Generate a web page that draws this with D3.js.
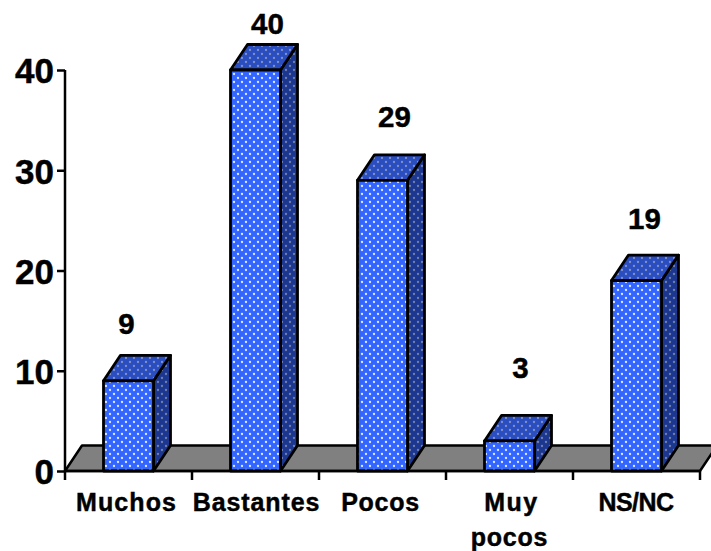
<!DOCTYPE html>
<html><head><meta charset="utf-8">
<script src="https://cdn.jsdelivr.net/npm/d3@7"></script>
<style>html,body{margin:0;padding:0;background:#fff}svg{display:block}text{font-family:"Liberation Sans",Arial,sans-serif;font-weight:700;fill:#000;stroke:#000;stroke-width:.45px}</style>
</head><body><svg id="c" width="711" height="551"></svg>
<script>
const categories = ["Muchos","Bastantes","Pocos","Muy pocos","NS/NC"];
const values = [9,40,29,3,19];
const yTicks = [0,10,20,30,40];
const catLabels = [["Muchos"],["Bastantes"],["Pocos"],["Muy","pocos"],["NS/NC"]];
// hand-placed label nudges from the original chart (layout only)
const labelLift = [31,21,38,47,36];
const labelShift = [-2,12,12,11,8];
const catShift = [[-2],[1],[-2],[2,0],[-0.5]];
const catSpacing = [[1.1],[0.9],[0.7],[1.5,0.8],[-0.6]];

const svg = d3.select("#c");
const x = d3.scaleBand().domain(categories).range([65,700]).paddingInner(0).paddingOuter(0);
const y = d3.scaleLinear().domain([0,40]).range([471,70]);
const barW = 50, dx = 17, dy = 25.5;

const defs = svg.append("defs");
function pat(id,bg,dot,op){
  const p = defs.append("pattern").attr("id",id).attr("patternUnits","userSpaceOnUse").attr("width",8).attr("height",8);
  p.append("rect").attr("width",8).attr("height",8).attr("fill",bg);
  [[2,2],[6,6]].forEach(([a,b])=>p.append("circle").attr("cx",a).attr("cy",b).attr("r",1.15).attr("fill",dot).attr("opacity",op));
}
pat("pFront","#3366ff","#ffffff",0.85);
pat("pTop","#2a4dc0","#a6aec8",0.7);
pat("pSide","#1c3790","#8f98b0",0.75);

const y0 = y(0), xL = x.range()[0], xR = x.range()[1];
svg.append("path").attr("d",d3.line()([[xL,y0],[xL+dx,y0-dy],[xR+dx,y0-dy],[xR,y0]])+"Z")
  .attr("fill","#808080").attr("stroke","#000").attr("stroke-width",2.5).attr("stroke-linejoin","round");

const g = svg.append("g").selectAll("g").data(categories).join("g");
const ln = d3.line();
g.each(function(c,i){
  const s = d3.select(this);
  const l = x(c)+x.bandwidth()/2-barW/2, r = l+barW, t = y(values[i]);
  const st = {stroke:"#000","stroke-width":2.8,"stroke-linejoin":"round"};
  const add = (pts,fill)=>{const e=s.append("path").attr("d",ln(pts)+"Z").attr("fill",fill);
    Object.entries(st).forEach(([k,v])=>e.attr(k,v));};
  add([[r,y0],[r+dx,y0-dy],[r+dx,t-dy],[r,t]],"url(#pSide)");
  add([[l,t],[l+dx,t-dy],[r+dx,t-dy],[r,t]],"url(#pTop)");
  add([[l,t],[r,t],[r,y0],[l,y0]],"url(#pFront)");
  s.append("text").attr("x",x(c)+x.bandwidth()/2+labelShift[i]).attr("y",t-dy-labelLift[i]+10)
    .attr("text-anchor","middle").attr("font-size",29.5).text(values[i]);
});

const ya = svg.append("g").attr("transform",`translate(${xL},0)`).call(d3.axisLeft(y).tickValues(yTicks).tickSize(8).tickPadding(3));
ya.selectAll("path").attr("d",`M0,${y(40)}V${y0}`).attr("stroke","#000").attr("stroke-width",2.5);
ya.selectAll("line").attr("stroke","#000").attr("stroke-width",2.5);
ya.selectAll("text").attr("font-size",35).attr("font-family",'"Liberation Sans",Arial,sans-serif').attr("font-weight",700).attr("dy","0.37em");

const xa = svg.append("g").attr("transform",`translate(0,${y0})`);
xa.append("line").attr("x1",xL).attr("x2",xR).attr("stroke","#000").attr("stroke-width",2.5);
d3.range(6).forEach(i=>{
  const px = xL + i*x.step();
  xa.append("line").attr("x1",px).attr("x2",px).attr("y1",0).attr("y2",9).attr("stroke","#000").attr("stroke-width",2.5);
});
categories.forEach((c,i)=>{
  catLabels[i].forEach((t,j)=>{
    xa.append("text").attr("x",x(c)+x.bandwidth()/2+catShift[i][j]).attr("y",40+j*35).attr("text-anchor","middle")
      .attr("font-size",25).attr("letter-spacing",catSpacing[i][j]).text(t);
  });
});
</script></body></html>
